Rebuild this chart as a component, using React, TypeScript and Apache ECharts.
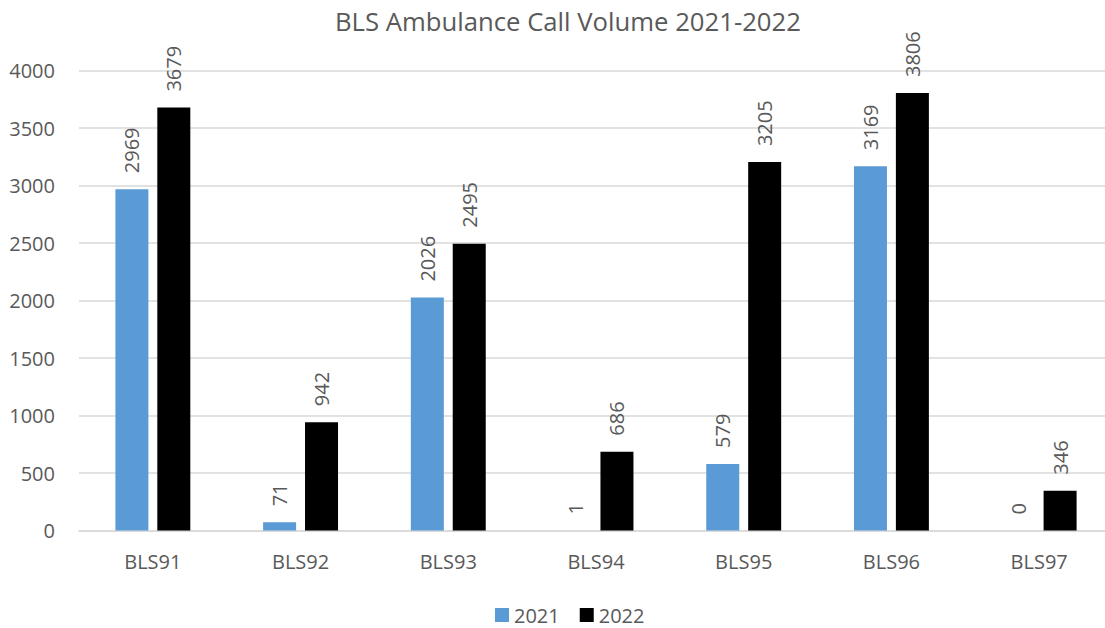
import React, { useEffect, useRef } from "react";
import * as echarts from "echarts";

const categories = ["BLS91", "BLS92", "BLS93", "BLS94", "BLS95", "BLS96", "BLS97"];
const calls2021 = [2969, 71, 2026, 1, 579, 3169, 0];
const calls2022 = [3679, 942, 2495, 686, 3205, 3806, 346];
const yTicks = { min: 0, max: 4000, interval: 500 };

const FONT = "'Open Sans', 'Noto Sans', sans-serif";
const GREY = "#595959";

export default function App() {
  const ref = useRef<HTMLDivElement>(null);

  useEffect(() => {
    if (!ref.current) return;
    const chart = echarts.init(ref.current, undefined, { renderer: "svg" });

    const valueLabel = {
      show: true,
      position: "top",
      rotate: 90,
      align: "left",
      verticalAlign: "middle",
      distance: 16,
      color: GREY,
      fontSize: 20,
      fontFamily: FONT,
    };

    chart.setOption({
      animation: false,
      backgroundColor: "#ffffff",
      title: {
        text: "BLS Ambulance Call Volume 2021-2022",
        left: 330,
        top: 3,
        textStyle: {
          color: GREY,
          fontSize: 25.7,
          fontWeight: "normal",
          fontFamily: FONT,
        },
      },
      legend: {
        left: 490,
        top: 600,
        itemWidth: 14,
        itemHeight: 14,
        itemGap: 20,
        icon: "rect",
        textStyle: { color: GREY, fontSize: 20, fontFamily: FONT, lineHeight: 20 },
        data: ["2021", "2022"],
      },
      grid: { left: 79, right: 0, top: 70.7, bottom: 97.5, containLabel: false },
      xAxis: {
        type: "category",
        data: categories,
        axisLine: { lineStyle: { color: "#d9d9d9", width: 1.5 } },
        axisTick: { show: false },
        axisLabel: {
          color: GREY,
          fontSize: 20,
          fontFamily: FONT,
          margin: 21,
          lineHeight: 20,
        },
      },
      yAxis: {
        type: "value",
        min: yTicks.min,
        max: yTicks.max,
        interval: yTicks.interval,
        axisLine: { show: false },
        axisTick: { show: false },
        splitLine: { lineStyle: { color: "#d9d9d9", width: 1.5 } },
        axisLabel: {
          color: GREY,
          fontSize: 20,
          fontFamily: FONT,
          margin: 24,
          formatter: (v: number) => String(v),
        },
      },
      series: [
        {
          name: "2021",
          type: "bar",
          data: calls2021,
          barWidth: 33,
          barGap: "27%",
          itemStyle: { color: "#5b9bd5" },
          label: valueLabel,
        },
        {
          name: "2022",
          type: "bar",
          data: calls2022,
          barWidth: 33,
          barGap: "27%",
          itemStyle: { color: "#000000" },
          label: valueLabel,
        },
      ],
    });

    return () => chart.dispose();
  }, []);

  return (
    <div
      style={{
        position: "fixed",
        left: 0,
        top: 0,
        width: 1105,
        height: 628,
        overflow: "hidden",
        background: "#ffffff",
      }}
    >
      {/* plot runs slightly past the right edge, so the canvas is wider than the frame */}
      <div ref={ref} style={{ width: 1113, height: 628 }} />
    </div>
  );
}
